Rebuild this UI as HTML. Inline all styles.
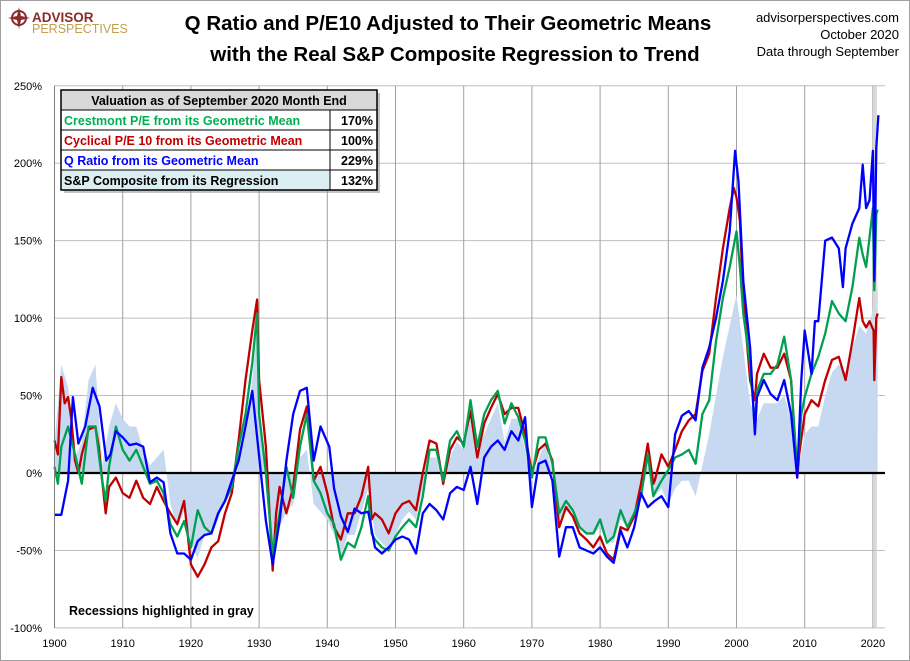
<!DOCTYPE html>
<html><head><meta charset="utf-8"><style>
body{margin:0;background:#fff;font-family:"Liberation Sans",sans-serif}
#wrap{position:relative;width:910px;height:661px;overflow:hidden}
</style></head><body>
<div id="wrap">
<svg id="chart" width="910" height="661" xmlns="http://www.w3.org/2000/svg">
<rect x="0.5" y="0.5" width="909" height="660" fill="#fff" stroke="#a0a0a0"/>
<g>
<circle cx="19" cy="18" r="7" fill="none" stroke="#8b2a2a" stroke-width="2"/>
<path d="M19 7 L21 16 L30 18 L21 20 L19 29 L17 20 L8 18 L17 16 Z" fill="#8b2a2a"/>
<text x="32" y="22" font-size="13.5" font-weight="bold" fill="#8b2a2a">ADVISOR</text>
<text x="32" y="33" font-size="12.5" fill="#c0a050">PERSPECTIVES</text>
</g>
<text x="448" y="30" text-anchor="middle" font-size="20.5" font-weight="bold" fill="#000">Q Ratio and P/E10 Adjusted to Their Geometric Means</text>
<text x="455" y="61" text-anchor="middle" font-size="20.5" font-weight="bold" fill="#000">with the Real S&amp;P Composite Regression to Trend</text>
<text x="899" y="22" text-anchor="end" font-size="13">advisorperspectives.com</text>
<text x="899" y="39" text-anchor="end" font-size="13">October 2020</text>
<text x="899" y="56" text-anchor="end" font-size="13">Data through September</text>
<g id="plot"></g>
</svg>
</div>
<script>
const areaYears=[1900,1901,1902,1903,1904,1905,1906,1907,1908,1909,1910,1911,1912,1913,1914,1915,1916,1917,1918,1919,1920,1921,1922,1923,1924,1925,1926,1927,1928,1929,1929.7,1930,1931,1932,1933,1934,1935,1936,1937,1938,1939,1940,1941,1942,1943,1944,1945,1946,1947,1948,1949,1950,1951,1952,1953,1954,1955,1956,1957,1958,1959,1960,1961,1962,1963,1964,1965,1966,1967,1968,1969,1970,1971,1972,1973,1974,1975,1976,1977,1978,1979,1980,1981,1982,1983,1984,1985,1986,1987,1988,1989,1990,1991,1992,1993,1994,1995,1996,1997,1998,1999,2000,2001,2002,2003,2004,2005,2006,2007,2008,2009,2010,2011,2012,2013,2014,2015,2016,2017,2018,2019,2020,2020.2,2020.7];
const areaValues=[20,70,55,10,20,60,70,5,30,45,35,30,30,15,5,10,15,-20,-35,-25,-45,-55,-40,-40,-30,-15,-10,5,30,60,95,40,-10,-55,-35,-25,-20,10,15,-20,-25,-30,-40,-55,-40,-40,-25,-10,-40,-45,-50,-40,-30,-25,-30,-10,10,10,-10,10,20,15,35,15,25,35,45,20,35,35,15,-5,10,20,0,-30,-25,-25,-35,-40,-40,-35,-45,-45,-30,-35,-25,-10,5,-15,-10,-20,-10,-5,-5,-15,5,25,50,75,95,115,80,45,35,45,45,45,50,35,0,25,30,30,50,65,70,65,80,95,90,105,85,125];
const redYears=[1900,1900.5,1901,1901.5,1902,1902.5,1903,1903.5,1904,1905,1906,1906.5,1907,1907.5,1908,1909,1910,1911,1912,1913,1914,1915,1916,1917,1918,1919,1920,1921,1922,1923,1924,1925,1926,1927,1928,1929,1929.7,1930,1931,1932,1932.5,1933,1934,1935,1936,1937,1938,1939,1940,1941,1942,1943,1944,1945,1946,1946.5,1947,1948,1949,1950,1951,1952,1953,1954,1955,1956,1957,1958,1959,1960,1961,1962,1963,1964,1965,1966,1967,1968,1969,1970,1971,1972,1973,1974,1975,1976,1977,1978,1979,1980,1981,1982,1983,1984,1985,1986,1987,1987.8,1988,1989,1990,1991,1992,1993,1994,1995,1996,1997,1998,1999,1999.6,2000,2000.5,2001,2002,2002.7,2003,2004,2005,2006,2007,2008,2008.9,2009.2,2010,2011,2012,2013,2014,2015,2016,2017,2018,2018.5,2019,2019.5,2020.1,2020.2,2020.5,2020.7];
const redValues=[21,12,62,45,49,34,8,0,12,28,30,17,-5,-26,-9,-3,-13,-16,-5,-16,-20,-9,-18,-26,-33,-18,-59,-67,-59,-48,-44,-26,-13,21,60,92,112,60,17,-63,-26,-9,-26,-9,28,43,-5,4,-13,-35,-43,-26,-26,-15,4,-30,-26,-30,-39,-26,-20,-18,-24,0,21,19,-7,15,23,19,40,10,32,42,51,38,42,42,25,0,15,19,8,-35,-22,-28,-39,-43,-48,-41,-52,-56,-35,-37,-28,-7,19,-7,-5,12,4,15,27,34,38,66,77,113,145,171,184,178,163,113,60,47,64,77,68,68,77,60,-3,12,38,47,43,60,73,75,60,85,113,98,94,98,92,60,100,103];
const blueYears=[1900,1901,1902,1902.7,1903.5,1904.5,1905.6,1906.6,1907.6,1908.2,1909,1910,1911,1912,1913,1914,1915,1916,1917,1918,1919,1920,1921,1922,1923,1924,1925,1926,1927,1928,1929,1931,1932,1933,1934,1935,1936,1937,1938,1939,1940.3,1941,1942,1943,1944,1945,1946,1947,1948,1949,1950,1951,1952,1953,1954,1955,1956,1957,1958,1959,1960,1961,1962,1963,1964,1965,1966,1967,1968,1969,1970,1971,1972,1973,1974,1975,1976,1977,1978,1979,1980,1981,1982,1983,1984,1985,1986,1987,1988,1989,1990,1991,1992,1993,1994,1995,1996,1997,1998,1999,1999.8,2000.3,2001,2002,2002.7,2003,2004,2005,2006,2007,2008,2008.9,2009.5,2010,2011,2011.5,2012,2013,2014,2015,2015.6,2016,2017,2018,2018.5,2019,2019.5,2020,2020.2,2020.5,2020.8];
const blueValues=[-27,-27,-5,49,19,30,55,43,8,12,27,23,18,19,17,-6,-3,-6,-39,-52,-52,-56,-44,-40,-39,-26,-18,-5,8,30,53,-31,-59,-31,8,38,53,55,8,30,17,-10,-28,-38,-23,-26,-25,-48,-52,-48,-43,-41,-43,-52,-26,-20,-24,-30,-13,-9,-11,4,-20,10,17,21,15,27,21,36,-22,6,8,-5,-54,-35,-35,-48,-50,-52,-48,-54,-58,-37,-48,-35,-13,-22,-18,-15,-22,25,37,40,34,68,81,100,124,156,208,188,124,81,25,49,60,51,47,60,38,-3,60,92,64,98,98,150,152,145,120,145,161,171,199,171,176,208,124,210,231];
const greenYears=[1900,1900.5,1901,1902,1902.5,1903,1904,1905,1906,1906.5,1907,1907.5,1908,1909,1910,1911,1912,1913,1914,1915,1916,1917,1918,1919,1920,1921,1922,1923,1924,1925,1926,1927,1928,1929,1929.7,1930,1931,1932,1933,1934,1935,1936,1937,1938,1939,1940,1941,1942,1943,1944,1945,1946,1946.5,1947,1948,1949,1950,1951,1952,1953,1954,1955,1956,1957,1958,1959,1960,1961,1962,1963,1964,1965,1966,1967,1968,1969,1970,1971,1972,1973,1974,1975,1976,1977,1978,1979,1980,1981,1982,1983,1984,1985,1986,1987,1987.8,1988,1989,1990,1991,1992,1993,1994,1995,1996,1997,1998,1999,2000,2000.5,2001,2002,2002.7,2003,2004,2005,2006,2007,2008,2008.9,2009.5,2010,2011,2012,2013,2014,2015,2016,2017,2018,2018.5,2019,2019.5,2020,2020.2,2020.5,2020.7];
const greenValues=[4,-7,17,30,21,12,-7,30,30,12,-5,-18,4,30,15,8,15,4,-7,-5,-13,-33,-41,-31,-48,-24,-35,-39,-26,-18,-9,17,38,71,103,38,0,-52,-26,4,-16,17,38,-5,-13,-26,-33,-56,-45,-48,-35,-15,-39,-43,-48,-50,-41,-35,-30,-35,-15,15,15,-5,21,27,17,47,17,38,47,53,32,45,36,21,-3,23,23,6,-26,-18,-24,-35,-39,-39,-30,-45,-41,-24,-35,-26,-15,12,-15,-13,-5,2,10,12,15,6,38,47,85,113,133,156,133,103,70,30,53,64,64,70,88,60,2,38,49,64,75,90,111,103,98,120,152,141,133,152,171,118,167,170];
const yTicks=[250,200,150,100,50,0,-50,-100];
const xTicks=[1900,1910,1920,1930,1940,1950,1960,1970,1980,1990,2000,2010,2020];
const recessionStarts=[2020.15];
const recessionEnds=[2020.4];

const X0=54.5,PX=6.82,Y0=473,PY=1.549;
const xs=v=>X0+(v-1900)*PX;
const ys=v=>Y0-v*PY;
const NS='http://www.w3.org/2000/svg';
const plot=document.getElementById('plot');
function mk(t,a,p){const e=document.createElementNS(NS,t);for(const k in a)e.setAttribute(k,a[k]);(p||plot).appendChild(e);return e;}
const L=xs(1900),R=885,T=ys(250),B=ys(-100);
yTicks.forEach(v=>{
  const g=mk('line',{x1:L,x2:R,y1:ys(v),y2:ys(v),stroke:'#bfbfbf','stroke-width':1});
  
  
  const t=mk('text',{x:42,y:ys(v)+4,'text-anchor':'end','font-size':11,fill:'#000'});
  t.textContent=v+'%';
  
  
});
xTicks.forEach(v=>{
  const g=mk('line',{x1:xs(v),x2:xs(v),y1:T,y2:B,stroke:'#a0a0a0','stroke-width':1});
  
  
  const t=mk('text',{x:xs(v),y:647,'text-anchor':'middle','font-size':11,fill:'#000'});
  t.textContent=v;
  
  
});
recessionStarts.forEach((s,i)=>{
  const r=mk('rect',{x:xs(s),y:T,width:Math.max(3,xs(recessionEnds[i])-xs(s)),height:B-T,fill:'#d0d0d0',opacity:0.8});
  
  
});
let d='M'+xs(areaYears[0])+' '+ys(0);
areaYears.forEach((y,i)=>{d+=' L'+xs(y).toFixed(1)+' '+ys(areaValues[i]).toFixed(1);});
d+=' L'+xs(areaYears[areaYears.length-1])+' '+ys(0)+' Z';
const ar=mk('path',{d:d,fill:'#c6d9f1',stroke:'none'});


const z=mk('line',{x1:L,x2:R,y1:ys(0),y2:ys(0),stroke:'#000','stroke-width':2.2});


function line(xa,va,col,name){
  const p=mk('polyline',{points:xa.map((y,i)=>xs(y).toFixed(1)+','+ys(va[i]).toFixed(1)).join(' '),fill:'none',stroke:col,'stroke-width':2.3,'stroke-linejoin':'round'});
  
  
}
line(redYears,redValues,'#c00000','pe10-line');
line(greenYears,greenValues,'#00a050','crestmont-line');
line(blueYears,blueValues,'#0000ff','q-ratio-line');
const ax=mk('line',{x1:L,x2:L,y1:T,y2:B,stroke:'#808080','stroke-width':1});


const rn=mk('text',{x:69,y:615,'font-size':12.5,'font-weight':'bold',fill:'#000'});
rn.textContent='Recessions highlighted in gray';


const lg=mk('g',{});


mk('rect',{x:64,y:93,width:316,height:100,fill:'#888',opacity:0.5},lg);
mk('rect',{x:61,y:90,width:316,height:100,fill:'#fff',stroke:'#000','stroke-width':1},lg);
mk('rect',{x:61,y:90,width:316,height:20,fill:'#d9d9d9',stroke:'#000'},lg);
mk('rect',{x:61,y:170,width:269,height:20,fill:'#daeef3'},lg);
const rows=[['Crestmont P/E from its Geometric Mean','170%','#00b050'],['Cyclical P/E 10 from its Geometric Mean','100%','#c00000'],['Q Ratio from its Geometric Mean','229%','#0000ff'],['S&P Composite from its Regression','132%','#000']];
const ht=mk('text',{x:219,y:105,'text-anchor':'middle','font-size':12.5,'font-weight':'bold'},lg);
ht.textContent='Valuation as of September 2020 Month End';


rows.forEach((r,i)=>{
  const y=110+i*20;
  mk('line',{x1:61,x2:377,y1:y,y2:y,stroke:'#000'},lg);
  const a=mk('text',{x:64,y:y+15,'font-size':12.5,'font-weight':'bold',fill:r[2]},lg);
  a.textContent=r[0];
  
  
  const b=mk('text',{x:373,y:y+15,'text-anchor':'end','font-size':12.5,'font-weight':'bold',fill:'#000'},lg);
  b.textContent=r[1];
  
  
});
mk('line',{x1:330,x2:330,y1:110,y2:190,stroke:'#000'},lg);
mk('rect',{x:61,y:90,width:316,height:100,fill:'none',stroke:'#000','stroke-width':1.5},lg);
</script>
</body></html>
